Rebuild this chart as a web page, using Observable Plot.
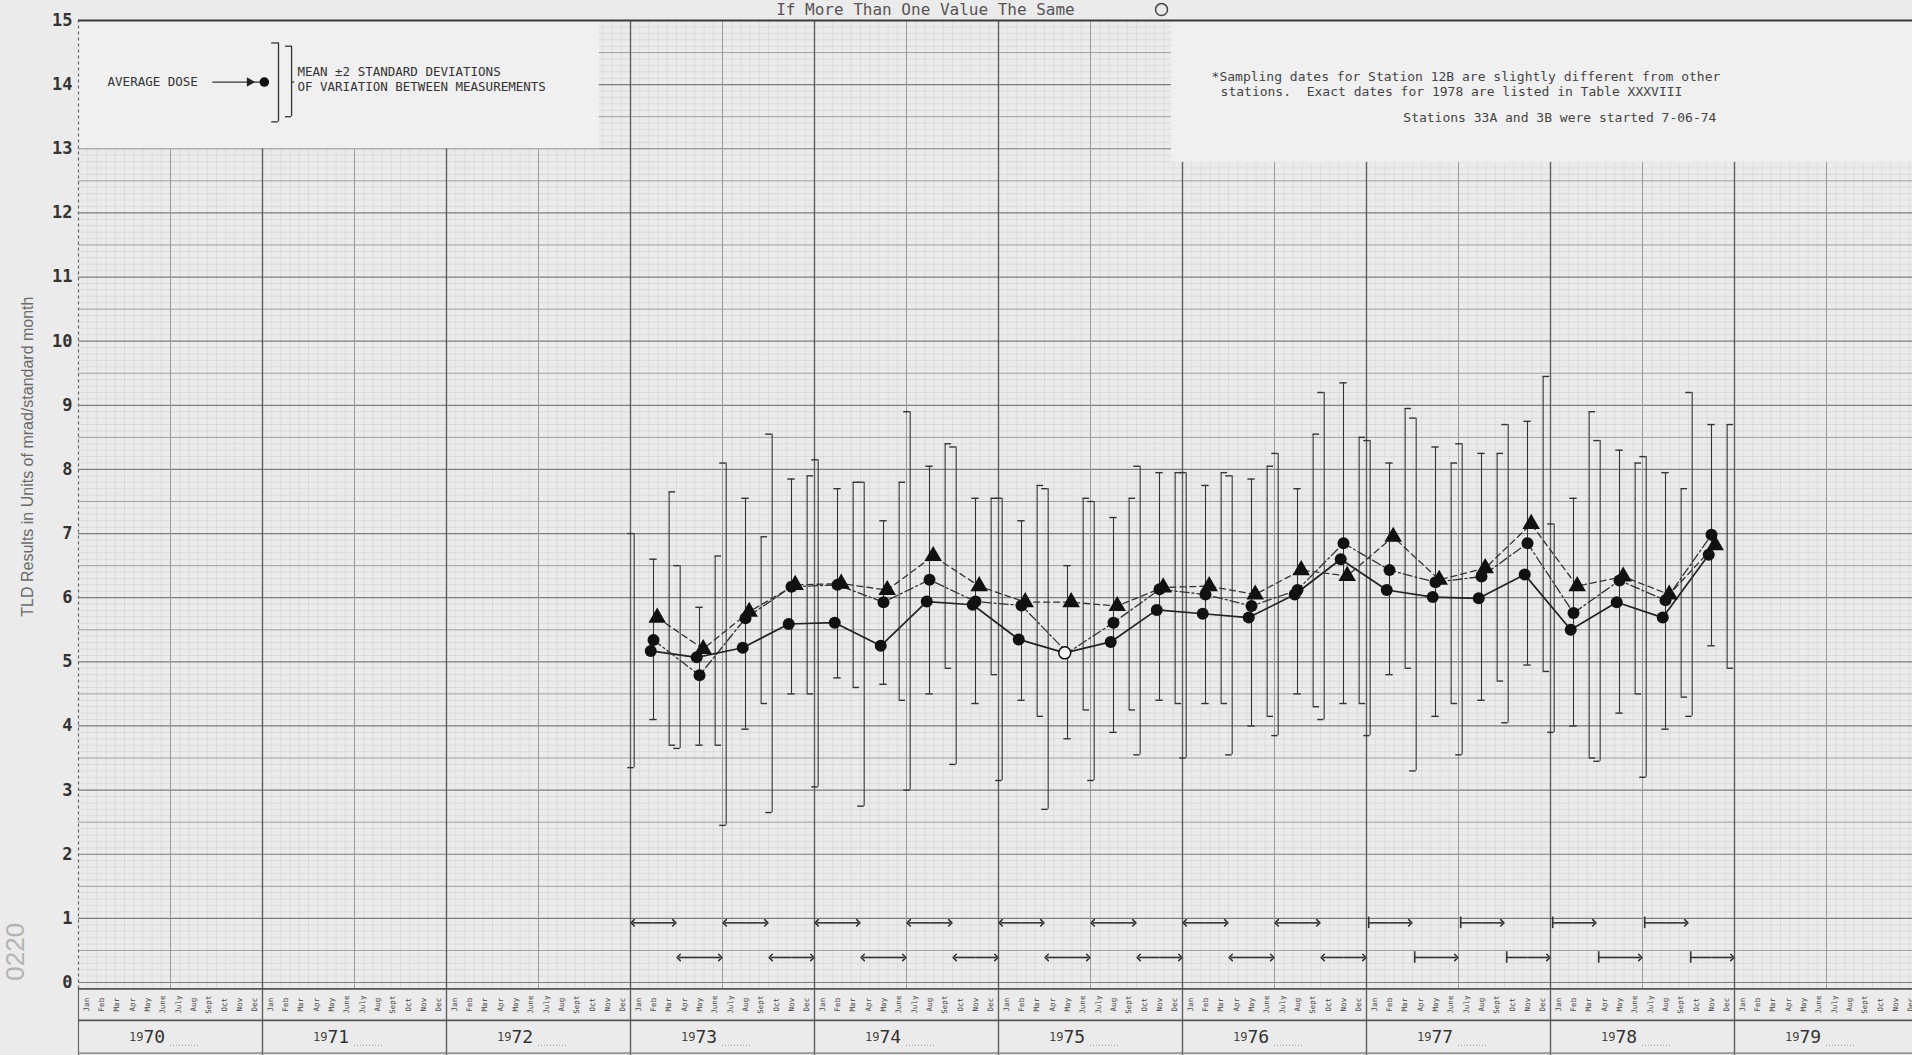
<!DOCTYPE html>
<html><head><meta charset="utf-8">
<script src="https://cdn.jsdelivr.net/npm/d3@7"></script>
<script src="https://cdn.jsdelivr.net/npm/@observablehq/plot@0.6"></script>
<style>
html,body{margin:0;padding:0;background:#ebebeb;overflow:hidden;}
#chart svg{display:block}
</style></head><body><div id="chart"></div>
<script>
// ---- data ----
const quarterMid = [1973.125,1973.375,1973.625,1973.875,1974.125,1974.375,1974.625,1974.875,
  1975.125,1975.375,1975.625,1975.875,1976.125,1976.375,1976.625,1976.875,
  1977.125,1977.375,1977.625,1977.875,1978.125,1978.375,1978.625,1978.875];
const seriesA = [5.17,5.07,5.22,5.59,5.61,5.25,5.94,5.89,5.35,5.14,5.31,5.81,5.75,5.69,6.05,6.60,6.12,6.01,5.99,6.36,5.50,5.93,5.69,6.67];
const seriesB = [5.34,4.79,5.68,6.17,6.20,5.93,6.28,5.94,5.88,5.14,5.61,6.13,6.05,5.87,6.12,6.85,6.43,6.24,6.33,6.85,5.76,6.27,5.96,6.98];
const seriesC = [5.69,5.20,5.78,6.20,6.22,6.12,6.65,6.18,5.93,5.93,5.87,6.16,6.18,6.05,6.43,6.34,6.95,6.28,6.46,7.15,6.18,6.33,6.05,6.82];
const aHi = [7.0,6.5,8.1,8.55,8.15,7.8,8.9,8.35,7.55,7.7,7.5,8.05,7.95,7.9,8.25,9.2,8.45,8.8,8.4,8.7,7.15,8.45,8.2,9.2];
const aLo = [3.35,3.65,2.45,2.65,3.05,2.75,3.0,3.4,3.15,2.7,3.15,3.55,3.5,3.55,3.85,4.1,3.85,3.3,3.55,4.05,3.9,3.45,3.2,4.15];
const bHi = [6.6,5.85,7.55,7.85,7.7,7.2,8.05,7.55,7.2,6.5,7.25,7.95,7.75,7.85,7.7,9.35,8.1,8.35,8.25,8.75,7.55,8.3,7.95,8.7];
const bLo = [4.1,3.7,3.95,4.5,4.75,4.65,4.5,4.35,4.4,3.8,3.9,4.4,4.35,4.0,4.5,4.35,4.8,4.15,4.4,4.95,4.0,4.2,3.95,5.25];
const cHi = [7.65,6.65,6.95,7.9,7.8,7.8,8.4,7.55,7.75,7.55,7.55,7.95,7.95,8.05,8.55,8.5,8.95,8.1,8.25,9.45,8.9,8.1,7.7,8.7];
const cLo = [3.7,3.7,4.35,4.5,4.6,4.4,4.9,4.8,4.15,4.25,4.25,4.35,4.35,4.15,4.3,4.35,4.9,4.35,4.7,4.85,3.5,4.5,4.45,4.9];

// sampling periods (quarters) shown as arrows near the bottom
const periodStart = [1973.00,1973.25,1973.50,1973.75,1974.00,1974.25,1974.50,1974.75,
  1975.00,1975.25,1975.50,1975.75,1976.00,1976.25,1976.50,1976.75,
  1977.00,1977.25,1977.50,1977.75,1978.00,1978.25,1978.50,1978.75];
const periodEnd = [1973.25,1973.50,1973.75,1974.00,1974.25,1974.50,1974.75,1975.00,
  1975.25,1975.50,1975.75,1976.00,1976.25,1976.50,1976.75,1977.00,
  1977.25,1977.50,1977.75,1978.00,1978.25,1978.50,1978.75,1979.00];
const periodRow = ["upper","lower","upper","lower","upper","lower","upper","lower",
  "upper","lower","upper","lower","upper","lower","upper","lower",
  "upper","lower","upper","lower","upper","lower","upper","lower"];

const years = [1970,1971,1972,1973,1974,1975,1976,1977,1978,1979];
const months = ["Jan","Feb","Mar","Apr","May","June","July","Aug","Sept","Oct","Nov","Dec"];
const yTicks = [0,1,2,3,4,5,6,7,8,9,10,11,12,13,14,15];

// ---- layout / style ----
const rowY = {upper: 0.93, lower: 0.39};
const ptOff = {A: -0.015, B: 0, C: 0.02};
const barOff = {A: -0.105, B: 0, C: 0.085};
const ink = "#222";
const mono = "DejaVu Sans Mono, monospace";

const pts = (vals, off) => quarterMid.map((q, i) => ({x: q + off, y: vals[i], i}));
const ptsA = pts(seriesA, ptOff.A), ptsB = pts(seriesB, ptOff.B), ptsC = pts(seriesC, ptOff.C);
const same = i => seriesA[i] === seriesB[i];

const bars = [];
quarterMid.forEach((q, i) => {
  bars.push({x: q + barOff.A, lo: aLo[i], hi: aHi[i], cap: "left"});
  bars.push({x: q + barOff.B, lo: bLo[i], hi: bHi[i], cap: "both"});
  bars.push({x: q + barOff.C, lo: cLo[i], hi: cHi[i], cap: "right"});
});
const caps = bars.flatMap(b => [{...b, y: b.lo}, {...b, y: b.hi}]);
const capX1 = d => d.cap === "left" ? d.x - 0.035 : d.cap === "both" ? d.x - 0.02 : d.x;
const capX2 = d => d.cap === "left" ? d.x : d.cap === "both" ? d.x + 0.02 : d.x + 0.035;

const periods = periodStart.map((s, i) => ({
  x1: s + 0.012, x2: periodEnd[i] - 0.012, mid: (s + periodEnd[i]) / 2,
  y: rowY[periodRow[i]], late: s >= 1977
}));

// grid
const fineH = d3.range(0, 151).map(i => i / 10).filter(v => Math.round(v * 10) % 5 !== 0);
const halfH = d3.range(0, 31).map(i => i / 2).filter(v => v % 1 !== 0);
const intH = yTicks.slice(0, 15);
const fineV = d3.range(0, 201).map(i => 1970 + i / 20).filter((v, i) => i % 10 !== 0);
const halfV = years.map(y => y + 0.5);
const monthCells = years.flatMap(y => months.map((m, k) => ({x: y + (k + 0.5) / 12, m})));

const blankPanels = [
  {x1: 1970.0, x2: 1972.83, y1: 13.0, y2: 15.0},
  {x1: 1975.94, x2: 1980.2, y1: 12.79, y2: 15.0}
];

const chart = Plot.plot({
  width: 1912, height: 1055,
  x: {domain: [1970, 1980], range: [78, 1918], axis: null},
  y: {domain: [0, 15], range: [982, 20], axis: null},
  style: {background: "#ebebeb", overflow: "visible"},
  marks: [
    // graph paper
    Plot.ruleY(fineH, {y: d => d, x1: 1970, x2: 1980.2, stroke: "#d0d0d0", strokeWidth: 0.6}),
    Plot.ruleX(fineV, {x: d => d, y1: -0.1, y2: 15, stroke: "#d3d3d3", strokeWidth: 0.6}),
    Plot.ruleY(halfH, {y: d => d, x1: 1970, x2: 1980.2, stroke: "#9e9e9e", strokeWidth: 1}),
    Plot.ruleY(intH, {y: d => d, x1: 1970, x2: 1980.2, stroke: "#7d7d7d", strokeWidth: 1.2}),
    Plot.ruleX(halfV, {x: d => d, y1: -0.1, y2: 15, stroke: "#9a9a9a", strokeWidth: 1}),
    Plot.ruleX(years.slice(1), {x: d => d, y1: -1.14, y2: 15, stroke: "#5e5e5e", strokeWidth: 1.4}),
    Plot.rect(blankPanels, {x1: "x1", x2: "x2", y1: "y1", y2: "y2", fill: "#f0f0f0"}),
    Plot.ruleX([1970], {x: d => d, y1: -0.1, y2: 15, stroke: "#666", strokeWidth: 1.2, strokeDasharray: "3,3"}),
    Plot.ruleX([1970], {x: d => d, y1: -1.14, y2: -0.1, stroke: "#666", strokeWidth: 1.2}),
    Plot.ruleY([15], {y: d => d, x1: 1970, x2: 1980.2, stroke: "#3a3a3a", strokeWidth: 2}),
    Plot.ruleY([-0.1, -0.59], {y: d => d, x1: 1970, x2: 1980.2, stroke: "#555", strokeWidth: 1.6}),
    Plot.ruleY([-1.1], {y: d => d, x1: 1970, x2: 1980.2, stroke: "#777", strokeWidth: 1.2}),

    // axes labels
    Plot.text(yTicks, {x: 1970, y: d => d, text: d => String(d), dx: -6, textAnchor: "end",
      fontSize: 17, fontWeight: "bold", fontFamily: mono, fill: "#333"}),
    Plot.text(monthCells, {x: "x", y: -0.345, text: "m", rotate: -90, fontSize: 7.5, fill: "#444", fontFamily: mono}),
    Plot.text(years, {x: d => d + 0.353, y: -0.86, text: () => "19", textAnchor: "end", fontSize: 12, fill: "#444", fontFamily: mono}),
    Plot.text(years, {x: d => d + 0.353, y: -0.86, text: d => String(d).slice(2), textAnchor: "start", fontSize: 18, fill: "#333", fontFamily: mono}),
    Plot.ruleY(years, {y: -0.98, x1: d => d + 0.5, x2: d => d + 0.66, stroke: "#999", strokeWidth: 1, strokeDasharray: "1,2"}),
    Plot.text(["TLD Results in Units of mrad/standard month"], {x: 1970, y: 8.2, dx: -51, text: d => d, rotate: -90,
      fontSize: 16, fill: "#6a6a6a", fontFamily: "Liberation Sans, sans-serif"}),
    Plot.text(["0220"], {x: 1970, y: 0.48, dx: -63, text: d => d, rotate: -90, fontSize: 26, fill: "#b3b3b3",
      fontFamily: "Liberation Sans, sans-serif"}),

    // error bars
    Plot.ruleX(bars, {x: "x", y1: "lo", y2: "hi", stroke: "#333", strokeWidth: 1.1}),
    Plot.ruleY(caps, {y: "y", x1: capX1, x2: capX2, stroke: "#333", strokeWidth: 1.4}),

    // series lines
    Plot.line(ptsA, {x: "x", y: "y", stroke: ink, strokeWidth: 1.7}),
    Plot.line(ptsB, {x: "x", y: "y", stroke: "#333", strokeWidth: 1.3, strokeDasharray: "9,3,2,3"}),
    Plot.line(ptsC, {x: "x", y: "y", stroke: "#333", strokeWidth: 1.3, strokeDasharray: "6,4"}),
    Plot.dot(ptsC, {x: "x", y: "y", symbol: "triangle", r: 6.5, fill: "#111"}),
    Plot.dot(ptsB.filter(d => !same(d.i)), {x: "x", y: "y", r: 6, fill: "#111"}),
    Plot.dot(ptsA.filter(d => !same(d.i)), {x: "x", y: "y", r: 6, fill: "#111"}),
    Plot.dot(ptsA.filter(d => same(d.i)), {x: "x", y: "y", r: 6, fill: "#f4f4f4", stroke: "#111", strokeWidth: 1.5}),

    // sampling period arrows (two halves, each ending in an arrowhead)
    Plot.link(periods.filter(d => !d.late), {x1: "mid", x2: "x1", y1: "y", y2: "y", stroke: "#333", strokeWidth: 1.6, markerEnd: "arrow"}),
    Plot.link(periods, {x1: "mid", x2: "x2", y1: "y", y2: "y", stroke: "#333", strokeWidth: 1.6, markerEnd: "arrow"}),
    Plot.link(periods.filter(d => d.late), {x1: "mid", x2: "x1", y1: "y", y2: "y", stroke: "#333", strokeWidth: 1.6}),
    Plot.ruleX(periods.filter(d => d.late), {x: "x1", y1: d => d.y - 0.09, y2: d => d.y + 0.09, stroke: "#333", strokeWidth: 1.6}),

    // top note
    Plot.text(["If More Than One Value The Same"], {x: 1974.603, y: 15.17, text: d => d, fontSize: 16,
      fill: "#555", fontFamily: mono}),
    Plot.dot([0], {x: 1975.886, y: 15.17, r: 6, stroke: "#444", strokeWidth: 1.5, fill: "none"}),

    // legend
    Plot.text(["AVERAGE DOSE"], {x: 1970.158, y: 14.04, text: d => d, textAnchor: "start", fontSize: 12.5, fill: "#333", fontFamily: mono}),
    Plot.ruleY([14.04], {y: d => d, x1: 1970.73, x2: 1971.0, stroke: "#333", strokeWidth: 1.2}),
    Plot.dot([0], {x: 1970.93, y: 14.04, symbol: "triangle", r: 3.5, fill: "#222", rotate: 90}),
    Plot.dot([0], {x: 1971.01, y: 14.04, r: 4.8, fill: "#111"}),
    Plot.ruleX([1971.087], {x: d => d, y1: 13.42, y2: 14.65, stroke: "#333", strokeWidth: 1.3}),
    Plot.ruleY([13.42, 14.65], {y: d => d, x1: 1971.05, x2: 1971.087, stroke: "#333", strokeWidth: 1.3}),
    Plot.ruleX([1971.158], {x: d => d, y1: 13.5, y2: 14.6, stroke: "#333", strokeWidth: 1.3}),
    Plot.ruleY([13.5, 14.6], {y: d => d, x1: 1971.125, x2: 1971.158, stroke: "#333", strokeWidth: 1.3}),
    Plot.ruleY([14.04], {y: d => d, x1: 1971.158, x2: 1971.175, stroke: "#333", strokeWidth: 1.3}),
    Plot.text(["MEAN ±2 STANDARD DEVIATIONS", "OF VARIATION BETWEEN MEASUREMENTS"], {x: 1971.19, y: (d, i) => [14.2, 13.97][i],
      text: d => d, textAnchor: "start", fontSize: 12.5, fill: "#333", fontFamily: mono}),

    // footnotes upper right
    Plot.text([
      {t: "*Sampling dates for Station 12B are slightly different from other", x: 1976.158, y: 14.12},
      {t: "stations.  Exact dates for 1978 are listed in Table XXXVIII", x: 1976.207, y: 13.89},
      {t: "Stations 33A and 3B were started 7-06-74", x: 1977.2, y: 13.48}
    ], {x: "x", y: "y", text: "t", textAnchor: "start", fontSize: 13, fill: "#444", fontFamily: mono})
  ]
});
document.getElementById("chart").appendChild(chart);
</script>
</body></html>
